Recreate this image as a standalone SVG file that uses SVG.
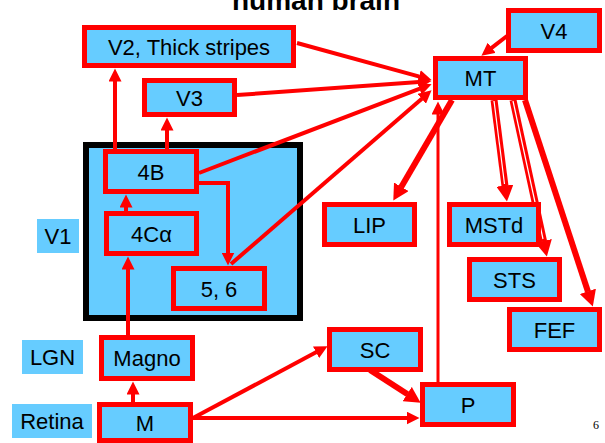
<svg xmlns="http://www.w3.org/2000/svg" width="605" height="443" viewBox="0 0 605 443">
<style>
.box{fill:#66CCFF;stroke:#FF0000;stroke-width:5}
.lbl{fill:#66CCFF}
.t{font-family:"Liberation Sans",Arial,sans-serif;font-size:22px;fill:#000;text-anchor:middle}
.c{fill:none;stroke:#FF0000;stroke-width:4}
.ck{fill:none;stroke:#FF0000;stroke-width:6}
.cf{fill:none;stroke:#FF0000;stroke-width:7}
.cw{fill:none;stroke:#FFFFFF;stroke-width:1.2}
</style>
<defs>
<marker id="ah" markerUnits="userSpaceOnUse" markerWidth="14" markerHeight="13" viewBox="0 0 14 13" refX="0.5" refY="6.5" orient="auto">
<path d="M0,0 L13,6.5 L0,13 Z" fill="#FF0000"/>
</marker>
<marker id="ahb" markerUnits="userSpaceOnUse" markerWidth="17" markerHeight="17" viewBox="0 0 17 17" refX="0.5" refY="8.5" orient="auto">
<path d="M0,0 L16,8.5 L0,17 Z" fill="#FF0000"/>
</marker>
</defs>
<rect width="605" height="443" fill="#FFFFFF"/>
<text x="316" y="10" font-family="'Liberation Sans',Arial,sans-serif" font-size="28" font-weight="bold" text-anchor="middle">human brain</text>

<g id="V1">
<rect x="86" y="145" width="214" height="173" fill="#66CCFF" stroke="#000000" stroke-width="6"/>
</g>
<g id="label-V1"><rect class="lbl" x="37" y="219" width="42" height="34"/><text class="t" x="58" y="244">V1</text></g>
<g id="label-LGN"><rect class="lbl" x="22" y="340" width="61" height="34"/><text class="t" x="52.5" y="365">LGN</text></g>
<g id="label-Retina"><rect class="lbl" x="12" y="404" width="80" height="34"/><text class="t" x="52" y="429">Retina</text></g>

<g id="connectors">
<path class="c" d="M115,149 V81" marker-end="url(#ah)"/>
<path class="c" d="M167,149 V130" marker-end="url(#ah)"/>
<path class="c" d="M126,211 V207" marker-end="url(#ah)"/>
<path class="c" d="M128,335 V269" marker-end="url(#ah)"/>
<path class="c" d="M133,402 V394" marker-end="url(#ah)"/>
<path class="c" d="M199,183 H228 V253" marker-end="url(#ah)"/>
<path class="c" d="M297,43 L419.5,76.6" marker-end="url(#ah)"/>
<path class="c" d="M237,95 L419,81.9" marker-end="url(#ah)"/>
<path class="c" d="M199,173 L419.9,88.6" marker-end="url(#ah)"/>
<path class="c" d="M231,264 L422.1,98.5" marker-end="url(#ah)"/>
<path class="c" d="M507,36 L491.3,48.1" marker-end="url(#ah)"/>
<path d="M438,382 V114" fill="none" stroke="#FF0000" stroke-width="3" marker-end="url(#ah)"/>
<path class="ck" d="M452,100 L401.1,187.2" marker-end="url(#ahb)"/>
<path class="cf" d="M494,100 L505,186.1" marker-end="url(#ahb)"/>
<path class="cw" d="M494,101 L504.5,184"/>
<path class="cf" d="M513,100 L543.6,241.4" marker-end="url(#ahb)"/>
<path class="cw" d="M513,101 L543,239"/>
<path class="ck" d="M525,100 L588,291.8" marker-end="url(#ahb)"/>
<path class="c" d="M193,418 L316.5,352.1" marker-end="url(#ah)"/>
<path class="c" d="M193,418 H407" marker-end="url(#ah)"/>
<path class="ck" d="M370,370 L407.6,394.3" marker-end="url(#ahb)"/>
</g>

<g id="V2"><rect class="box" x="84.5" y="27.5" width="209" height="38"/><text class="t" x="189" y="54.5">V2, Thick stripes</text></g>
<g id="V3"><rect class="box" x="144.5" y="80.5" width="90" height="34"/><text class="t" x="189.5" y="105.5">V3</text></g>
<g id="V4"><rect class="box" x="508.5" y="10.5" width="91" height="40"/><text class="t" x="554" y="38.5">V4</text></g>
<g id="MT"><rect class="box" x="435.5" y="58.5" width="90" height="39"/><text class="t" x="480.5" y="86">MT</text></g>
<g id="L4B"><rect class="box" x="105.5" y="151.5" width="91" height="40"/><text class="t" x="151" y="179.5">4B</text></g>
<g id="L4Ca"><rect class="box" x="106.5" y="213.5" width="90" height="40"/><text class="t" x="151.5" y="241.5">4Cα</text></g>
<g id="L56"><rect class="box" x="173.5" y="268.5" width="91" height="40"/><text class="t" x="219" y="296.5">5, 6</text></g>
<g id="Magno"><rect class="box" x="101.5" y="337.5" width="91" height="41"/><text class="t" x="147" y="366">Magno</text></g>
<g id="M"><rect class="box" x="99.5" y="404.5" width="91" height="36"/><text class="t" x="145" y="431">M</text></g>
<g id="SC"><rect class="box" x="329.5" y="329.5" width="91" height="40"/><text class="t" x="375" y="357.5">SC</text></g>
<g id="P"><rect class="box" x="422.5" y="384.5" width="91" height="40"/><text class="t" x="468" y="412.5">P</text></g>
<g id="LIP"><rect class="box" x="324.5" y="204.5" width="90" height="40"/><text class="t" x="369.5" y="232.5">LIP</text></g>
<g id="MSTd"><rect class="box" x="449.5" y="204.5" width="89" height="40"/><text class="t" x="494" y="232.5">MSTd</text></g>
<g id="STS"><rect class="box" x="469.5" y="259.5" width="90" height="40"/><text class="t" x="514.5" y="287.5">STS</text></g>
<g id="FEF"><rect class="box" x="509.5" y="309.5" width="90" height="40"/><text class="t" x="554.5" y="337.5">FEF</text></g>

<text x="596" y="429" font-family="'Liberation Serif','Times New Roman',serif" font-size="12" text-anchor="middle">6</text>
</svg>
